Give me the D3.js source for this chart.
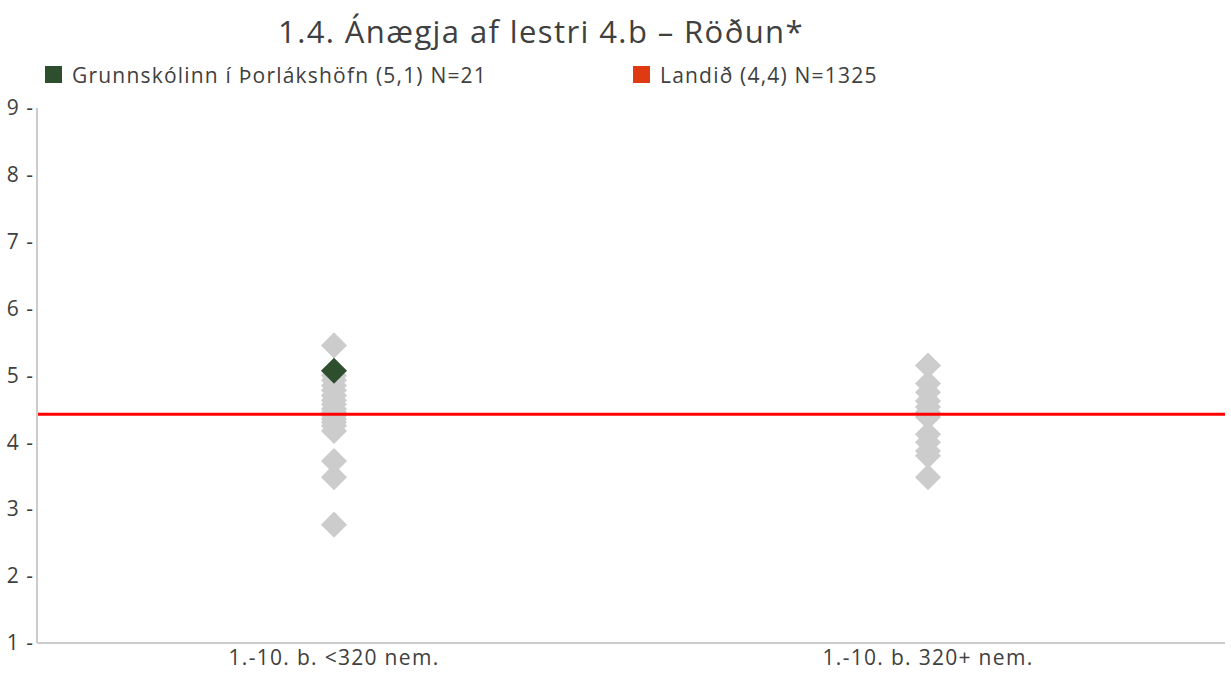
<!DOCTYPE html>
<meta charset="utf-8">
<script src="https://d3js.org/d3.v7.min.js"></script>
<style>
  body { margin: 0; background: #fff; font-family: "Open Sans", sans-serif; }
  .tick text { fill: #404040; }
</style>
<div id="chart"></div>
<script>
// data
var categories = ["1.-10. b. <320 nem.", "1.-10. b. 320+ nem."];
var smallSchools = [5.45, 5.0, 4.93, 4.85, 4.78, 4.7, 4.63, 4.57, 4.5, 4.45, 4.4, 4.35, 4.3, 4.25, 4.17, 3.72, 3.48, 2.77];
var largeSchools = [5.15, 4.88, 4.75, 4.62, 4.53, 4.45, 4.38, 4.12, 4.0, 3.87, 3.8, 3.48];
var schoolValue = 5.07;   // Grunnskólinn í Þorlákshöfn
var nationalValue = 4.42; // Landið
var yTicks = [1, 2, 3, 4, 5, 6, 7, 8, 9];
var legendItems = ["Grunnskólinn í Þorlákshöfn (5,1) N=21", "Landið (4,4) N=1325"];

var W = 1231, H = 677;
var margin = {top: 108, right: 6, bottom: 34, left: 37};

var svg = d3.select("#chart").append("svg")
    .attr("width", W).attr("height", H);

var x = d3.scaleBand().domain(categories).range([margin.left, W - margin.right]);
var y = d3.scaleLinear().domain([1, 9]).range([H - margin.bottom, margin.top]);

// title
svg.append("text")
    .attr("x", 541).attr("y", 43)
    .attr("text-anchor", "middle")
    .style("font-size", "31px").style("letter-spacing", "1.4px").style("fill", "#404040")
    .text("1.4. Ánægja af lestri 4.b – Röðun*");

// legend
var legendColors = ["#2e4f2e", "#e03a12"];
var legendX = [45, 633];
legendItems.forEach(function(t, i) {
  svg.append("rect").attr("x", legendX[i]).attr("y", 66).attr("width", 17).attr("height", 17)
      .attr("fill", legendColors[i]);
  svg.append("text").attr("x", legendX[i] + 27).attr("y", 83)
      .style("font-size", "21px").style("letter-spacing", "1.2px").style("fill", "#404040").text(t);
});

// y axis
var yAxis = svg.append("g")
    .attr("transform", "translate(" + (margin.left - 1) + ",0)")
    .call(d3.axisLeft(y).tickValues(yTicks).tickSize(0).tickPadding(2).tickFormat(function(d) { return d + " -"; }));
yAxis.select(".domain").remove();
yAxis.selectAll("text").style("font-size", "21px").style("letter-spacing", "1px").attr("font-family", "'Open Sans', sans-serif");

// axis lines
svg.append("line").attr("x1", margin.left).attr("x2", margin.left)
    .attr("y1", y(9)).attr("y2", y(1)).attr("stroke", "#cccccc").attr("stroke-width", 2);
svg.append("line").attr("x1", margin.left).attr("x2", W - margin.right)
    .attr("y1", y(1)).attr("y2", y(1)).attr("stroke", "#cccccc").attr("stroke-width", 2);

// x axis labels
var xAxis = svg.append("g")
    .attr("transform", "translate(0," + y(1) + ")")
    .call(d3.axisBottom(x).tickSize(0).tickPadding(7));
xAxis.select(".domain").remove();
xAxis.selectAll("text").style("font-size", "21px").style("letter-spacing", "1.3px").attr("font-family", "'Open Sans', sans-serif");

// diamonds
var diamond = d3.symbol().type(d3.symbolSquare).size(340);
function drawPoints(vals, cat) {
  svg.append("g").selectAll("path")
    .data(vals).enter().append("path")
      .attr("d", diamond)
      .attr("transform", function(d) { return "translate(" + (x(cat) + x.bandwidth() / 2) + "," + y(d) + ") rotate(45)"; })
      .attr("fill", "#cccccc");
}
drawPoints(smallSchools, categories[0]);
drawPoints(largeSchools, categories[1]);

// national line
svg.append("line")
    .attr("x1", margin.left + 1).attr("x2", W - margin.right)
    .attr("y1", y(nationalValue)).attr("y2", y(nationalValue))
    .attr("stroke", "#ff0000").attr("stroke-width", 3);

// school marker
svg.append("path")
    .attr("d", diamond)
    .attr("transform", "translate(" + (x(categories[0]) + x.bandwidth() / 2) + "," + y(schoolValue) + ") rotate(45)")
    .attr("fill", "#2e4f2e");
</script>
